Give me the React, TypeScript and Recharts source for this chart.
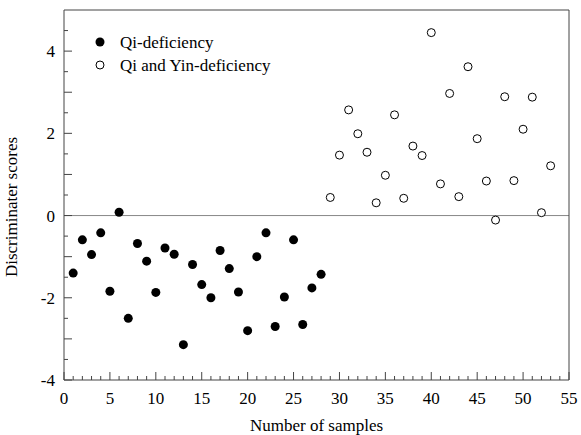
import { ScatterChart, Scatter, XAxis, YAxis, ReferenceLine } from 'recharts';

const qiSamples = [1, 2, 3, 4, 5, 6, 7, 8, 9, 10, 11, 12, 13, 14, 15, 16, 17, 18, 19, 20, 21, 22, 23, 24, 25, 26, 27, 28];
const qiScores = [-1.4, -0.59, -0.95, -0.42, -1.84, 0.08, -2.5, -0.68, -1.11, -1.87, -0.79, -0.94, -3.14, -1.19, -1.68, -2.0, -0.85, -1.29, -1.86, -2.8, -1.0, -0.42, -2.7, -1.98, -0.59, -2.65, -1.76, -1.43];

const qiYinSamples = [29, 30, 31, 32, 33, 34, 35, 36, 37, 38, 39, 40, 41, 42, 43, 44, 45, 46, 47, 48, 49, 50, 51, 52, 53];
const qiYinScores = [0.44, 1.47, 2.57, 1.99, 1.54, 0.31, 0.98, 2.45, 0.42, 1.69, 1.46, 4.45, 0.77, 2.97, 0.46, 3.62, 1.87, 0.84, -0.11, 2.89, 0.85, 2.1, 2.88, 0.07, 1.21];

const xTicks = Array.from({ length: 56 }, (_, i) => i);
const yTicks = [-4, -3.5, -3, -2.5, -2, -1.5, -1, -0.5, 0, 0.5, 1, 1.5, 2, 2.5, 3, 3.5, 4, 4.5];
const xLabelled = [0, 5, 10, 15, 20, 25, 30, 35, 40, 45, 50, 55];
const yLabelled = [-4, -2, 0, 2, 4];
const seriesNames = ['Qi-deficiency', 'Qi and Yin-deficiency'];

const qiData = qiSamples.map((s, i) => ({ sample: s, score: qiScores[i] }));
const qiYinData = qiYinSamples.map((s, i) => ({ sample: s, score: qiYinScores[i] }));

const FONT = '"Liberation Serif", "Times New Roman", serif';
const AXIS = '#444';

const XTick = (props: any) => {
  const { x, y, payload } = props;
  const major = xLabelled.includes(payload.value);
  return (
    <g>
      <line x1={x} x2={x} y1={y} y2={y - (major ? 8 : 4)} stroke={AXIS} strokeWidth={1} />
      {major && (
        <text x={x} y={y + 24} textAnchor="middle" fontFamily={FONT} fontSize={17} fill="#000">
          {payload.value}
        </text>
      )}
    </g>
  );
};

const YTick = (props: any) => {
  const { x, y, payload } = props;
  const major = Number.isInteger(payload.value);
  const labelled = yLabelled.includes(payload.value);
  return (
    <g>
      <line x1={x} x2={x + (major ? 8 : 4)} y1={y} y2={y} stroke={AXIS} strokeWidth={1} />
      {labelled && (
        <text x={x - 9} y={y + 6} textAnchor="end" fontFamily={FONT} fontSize={17} fill="#000">
          {payload.value}
        </text>
      )}
    </g>
  );
};

export default function App() {
  return (
    <div style={{ position: 'absolute', left: 0, top: 0, width: 581, height: 435, background: '#fff' }}>
      <ScatterChart width={581} height={435} margin={{ top: 10, right: 12, bottom: 0, left: 0 }}>
        <XAxis
          type="number"
          dataKey="sample"
          domain={[0, 55]}
          ticks={xTicks}
          interval={0}
          tickLine={false}
          tickSize={0}
          tickMargin={0}
          axisLine={{ stroke: AXIS }}
          tick={<XTick />}
          height={55}
          label={{ value: 'Number of samples', position: 'insideBottom', offset: 4, fontFamily: FONT, fontSize: 17, fill: '#000' }}
        />
        <YAxis
          type="number"
          dataKey="score"
          domain={[-4, 5]}
          ticks={yTicks}
          interval={0}
          tickLine={false}
          tickSize={0}
          tickMargin={0}
          axisLine={{ stroke: AXIS }}
          tick={<YTick />}
          width={64}
          label={{ value: 'Discriminater scores', angle: -90, position: 'insideLeft', offset: 11, dy: 12, style: { textAnchor: 'middle' }, fontFamily: FONT, fontSize: 17, fill: '#000' }}
        />
        <ReferenceLine y={0} stroke="#888" strokeWidth={1} />
        <ReferenceLine y={5} stroke={AXIS} strokeWidth={1} />
        <ReferenceLine x={55} stroke={AXIS} strokeWidth={1} />
        <Scatter
          name={seriesNames[0]}
          data={qiData}
          fill="#000"
          isAnimationActive={false}
          shape={(p: any) => <circle cx={p.cx} cy={p.cy} r={4.5} fill="#000" />}
        />
        <Scatter
          name={seriesNames[1]}
          data={qiYinData}
          fill="#fff"
          isAnimationActive={false}
          shape={(p: any) => <circle cx={p.cx} cy={p.cy} r={4} fill="#fff" stroke="#000" strokeWidth={1} />}
        />
      </ScatterChart>
      <svg width={220} height={50} style={{ position: 'absolute', left: 90, top: 32 }}>
        <circle cx={10} cy={10} r={4.5} fill="#000" />
        <text x={30} y={16} fontFamily={FONT} fontSize={17} fill="#000">{seriesNames[0]}</text>
        <circle cx={10} cy={33} r={4} fill="#fff" stroke="#000" strokeWidth={1} />
        <text x={30} y={39} fontFamily={FONT} fontSize={17} fill="#000">{seriesNames[1]}</text>
      </svg>
    </div>
  );
}
